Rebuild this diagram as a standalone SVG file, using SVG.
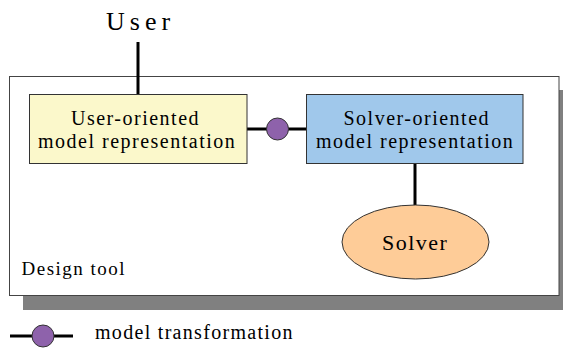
<svg xmlns="http://www.w3.org/2000/svg" width="563" height="348" viewBox="0 0 563 348">
<style>
.t{font-family:"Liberation Serif","Times New Roman",serif;fill:#000;letter-spacing:1.5px}
.box{stroke:#333;stroke-width:1}
.ln{stroke:#000;stroke-width:3;fill:none}
.tr{fill:#8E62AB;stroke:#333;stroke-width:1}
</style>
<rect width="563" height="348" fill="#fff"/>
<g id="design-tool">
<rect x="23" y="90" width="550" height="220" fill="#808080"/>
<rect x="9.5" y="76.5" width="549.5" height="219" fill="#fff" stroke="#444" stroke-width="1"/>
<text class="t" x="21.5" y="274.5" font-size="19">Design tool</text>
</g>
<g id="connectors">
<line class="ln" x1="138" y1="42" x2="138" y2="94.5"/>
<line class="ln" x1="247" y1="129" x2="306.5" y2="129"/>
<line class="ln" x1="415" y1="163.5" x2="415" y2="205"/>
<circle class="tr" cx="277.5" cy="129" r="11"/>
</g>
<g id="user">
<text class="t" x="106" y="29.5" font-size="26" style="letter-spacing:5px">User</text>
</g>
<g id="user-model">
<rect class="box" x="29.5" y="94.5" width="217.5" height="69" fill="#FBF8CB"/>
<text class="t" x="71" y="125" font-size="20">User-oriented</text>
<text class="t" x="38" y="148" font-size="20">model representation</text>
</g>
<g id="solver-model">
<rect class="box" x="306.5" y="94.5" width="216.5" height="69" fill="#A0C8EB"/>
<text class="t" x="343.5" y="125" font-size="20">Solver-oriented</text>
<text class="t" x="316" y="148" font-size="20">model representation</text>
</g>
<g id="solver">
<ellipse class="box" cx="415.5" cy="242" rx="73.5" ry="37" fill="#FECC98"/>
<text class="t" x="382" y="249.5" font-size="22">Solver</text>
</g>
<g id="legend">
<line class="ln" x1="10" y1="336" x2="73" y2="336"/>
<circle class="tr" cx="43" cy="336" r="11"/>
<text class="t" x="95" y="338.5" font-size="20" style="letter-spacing:1.3px">model transformation</text>
</g>
</svg>
